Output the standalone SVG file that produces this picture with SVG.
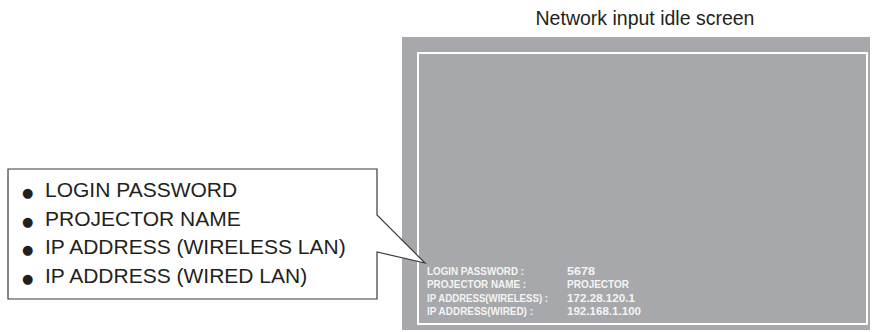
<svg xmlns="http://www.w3.org/2000/svg" width="872" height="332" viewBox="0 0 872 332">
<style>
.title{font-family:"Liberation Sans",Arial,sans-serif;font-size:19.5px;fill:#231f20;text-anchor:middle}
.call{font-family:"Liberation Sans",Arial,sans-serif;font-size:21px;fill:#231f20}
.bul{font-family:"DejaVu Sans",sans-serif;font-size:13px;fill:#231f20}
.scr{font-family:"Liberation Sans",Arial,sans-serif;font-size:11.5px;font-weight:bold;fill:#f4f4f4}
</style>
<rect width="872" height="332" fill="#ffffff"/>
<g id="title"><text class="title" x="645" y="25">Network input idle screen</text></g>
<g id="screen">
<rect x="402" y="37" width="468" height="293" fill="#a7a8ab"/>
<rect x="418" y="53" width="449" height="271" fill="none" stroke="#ffffff" stroke-width="2"/>
<text class="scr" x="427" y="274.5" textLength="97" lengthAdjust="spacingAndGlyphs">LOGIN PASSWORD :</text>
<text class="scr" x="427" y="288" textLength="99" lengthAdjust="spacingAndGlyphs">PROJECTOR NAME :</text>
<text class="scr" x="427" y="301.5" textLength="121" lengthAdjust="spacingAndGlyphs">IP ADDRESS(WIRELESS) :</text>
<text class="scr" x="427" y="315" textLength="106" lengthAdjust="spacingAndGlyphs">IP ADDRESS(WIRED) :</text>
<text class="scr" x="567" y="274.5" textLength="28" lengthAdjust="spacingAndGlyphs">5678</text>
<text class="scr" x="567" y="288" textLength="62" lengthAdjust="spacingAndGlyphs">PROJECTOR</text>
<text class="scr" x="567" y="301.5" textLength="68" lengthAdjust="spacingAndGlyphs">172.28.120.1</text>
<text class="scr" x="567" y="315" textLength="74" lengthAdjust="spacingAndGlyphs">192.168.1.100</text>
</g>
<g id="callout">
<path d="M8,169 H377 V215 L425,263 L377,252 V299 H8 Z" fill="#ffffff" stroke="#3a3a3a" stroke-width="1.2" stroke-linejoin="miter"/>
<text class="call" y="197"><tspan class="bul" x="22">●</tspan><tspan x="45">LOGIN PASSWORD</tspan></text>
<text class="call" y="225.5"><tspan class="bul" x="22">●</tspan><tspan x="45">PROJECTOR NAME</tspan></text>
<text class="call" y="254"><tspan class="bul" x="22">●</tspan><tspan x="45">IP ADDRESS (WIRELESS LAN)</tspan></text>
<text class="call" y="282.5"><tspan class="bul" x="22">●</tspan><tspan x="45">IP ADDRESS (WIRED LAN)</tspan></text>
</g>
<g id="connectors"></g>
</svg>
